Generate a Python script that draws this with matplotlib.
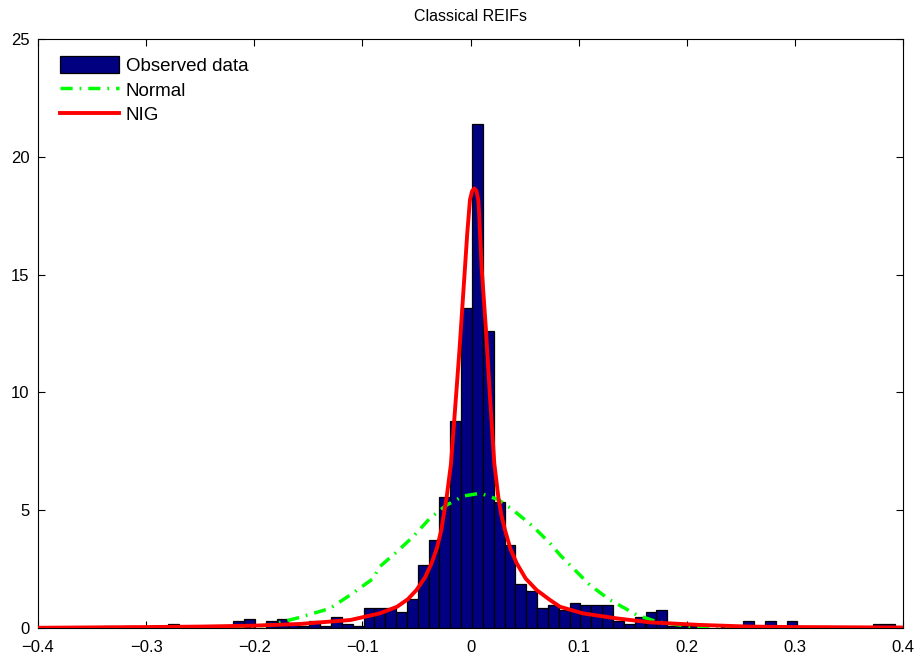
import matplotlib
matplotlib.use('Agg')
import matplotlib.pyplot as plt

plt.rcParams['font.family'] = ['Liberation Sans', 'DejaVu Sans']

# histogram bins (centres) and densities
bin_centers = [-0.3346, -0.3146, -0.2744, -0.2143, -0.2042, -0.1842, -0.1741,
               -0.1641, -0.1541, -0.1440, -0.1340, -0.1240, -0.1140, -0.1039,
               -0.0939, -0.0839, -0.0738, -0.0638, -0.0538, -0.0437, -0.0337,
               -0.0237, -0.0137, -0.0036, 0.0064, 0.0164, 0.0265, 0.0365,
               0.0465, 0.0566, 0.0666, 0.0766, 0.0866, 0.0967, 0.1067, 0.1167,
               0.1268, 0.1368, 0.1468, 0.1568, 0.1669, 0.1769, 0.1869, 0.1970,
               0.2070, 0.2371, 0.2572, 0.2772, 0.2973, 0.3775, 0.3875]
bin_heights = [0.10, 0.10, 0.19, 0.29, 0.38, 0.29, 0.38,
               0.19, 0.10, 0.29, 0.10, 0.48, 0.19, 0.10,
               0.86, 0.86, 0.86, 0.67, 1.24, 2.67, 3.72,
               5.54, 8.79, 13.6, 21.4, 12.6, 5.35, 3.53,
               1.85, 1.57, 0.86, 0.96, 0.76, 1.05, 0.96, 0.96,
               0.96, 0.29, 0.19, 0.48, 0.67, 0.76, 0.10, 0.10,
               0.10, 0.10, 0.29, 0.29, 0.29, 0.19, 0.19]
bin_width = 0.01003

# fitted Normal density
normal_x = [-0.40, -0.25, -0.20, -0.185, -0.158, -0.13, -0.109, -0.09, -0.084,
            -0.068, -0.053, -0.0375, -0.022, -0.0067, 0.009, 0.0257, 0.0396,
            0.058, 0.0735, 0.0828, 0.092, 0.1105, 0.129, 0.154, 0.172, 0.203,
            0.25, 0.40]
normal_y = [0.0, 0.01, 0.07, 0.13, 0.45, 0.83, 1.47, 2.1, 2.6,
            3.24, 3.88, 4.66, 5.22, 5.6, 5.72, 5.45, 5.0,
            4.3, 3.6, 3.1, 2.67, 1.82, 1.19, 0.55, 0.27, 0.06,
            0.01, 0.0]

# fitted NIG density
nig_x = [-0.40, -0.30, -0.25, -0.20, -0.158, -0.111, -0.084, -0.068, -0.058,
         -0.050, -0.042, -0.036, -0.031, -0.027, -0.022, -0.018, -0.0134,
         -0.0102, -0.0051, -0.003, -0.0015, -0.0005, 0.0015, 0.0035, 0.0055,
         0.0072, 0.0080, 0.0088, 0.0103, 0.0143, 0.018, 0.022, 0.0257, 0.0285,
         0.0319, 0.037, 0.0427, 0.051, 0.0612, 0.0735, 0.0828, 0.104, 0.135,
         0.166, 0.212, 0.258, 0.30, 0.40]
nig_y = [0.01, 0.04, 0.06, 0.10, 0.17, 0.34, 0.62, 0.90, 1.22,
         1.61, 2.15, 2.75, 3.40, 4.16, 5.57, 6.99, 9.82,
         11.8, 15.3, 16.75, 17.6, 18.17, 18.55, 18.66, 18.55,
         18.17, 17.6, 16.75, 15.3, 12.65, 9.82, 6.99, 5.57, 4.80,
         4.16, 3.35, 2.75, 2.10, 1.61, 1.19, 0.90, 0.62, 0.41,
         0.24, 0.13, 0.06, 0.04, 0.02]

x_ticks = [-0.4, -0.3, -0.2, -0.1, 0, 0.1, 0.2, 0.3, 0.4]
x_tick_labels = ['\u22120.4', '\u22120.3', '\u22120.2', '\u22120.1', '0',
                 '0.1', '0.2', '0.3', '0.4']
y_ticks = [0, 5, 10, 15, 20, 25]

fig = plt.figure(figsize=(9.22, 6.6), dpi=100)
ax = fig.add_axes([38 / 922, 32 / 660, 865 / 922, 589 / 660])

bars = ax.bar(bin_centers, bin_heights, width=bin_width, color='#000080',
              edgecolor='black', linewidth=0.9, label='Observed data', zorder=2)
normal_line, = ax.plot(normal_x, normal_y, color='#00ff00', linestyle='-.',
                       linewidth=2.5, dashes=(3.5, 2, 0.5, 2), label='Normal',
                       zorder=3)
nig_line, = ax.plot(nig_x, nig_y, color='red', linewidth=2.8, label='NIG',
                    zorder=4)

ax.set_xlim(-0.4, 0.4)
ax.set_ylim(0, 25)
ax.set_xticks(x_ticks)
ax.set_xticklabels(x_tick_labels)
ax.set_yticks(y_ticks)
ax.tick_params(direction='in', top=True, right=True, length=5, labelsize=12)
ax.tick_params(axis='x', pad=9)
ax.tick_params(axis='y', pad=6)
ax.set_title('Classical REIFs', fontsize=11.5, pad=13)

# legend without a frame, entries in the reference order
ax.legend([bars, normal_line, nig_line], ['Observed data', 'Normal', 'NIG'],
          loc='upper left', bbox_to_anchor=(22 / 865, 1 - 17 / 589),
          frameon=False, fontsize=13.5, handlelength=3.15, handleheight=1.0,
          labelspacing=0.32, borderaxespad=0, borderpad=0, handletextpad=0.35)

fig.savefig('out.png', dpi=100)
